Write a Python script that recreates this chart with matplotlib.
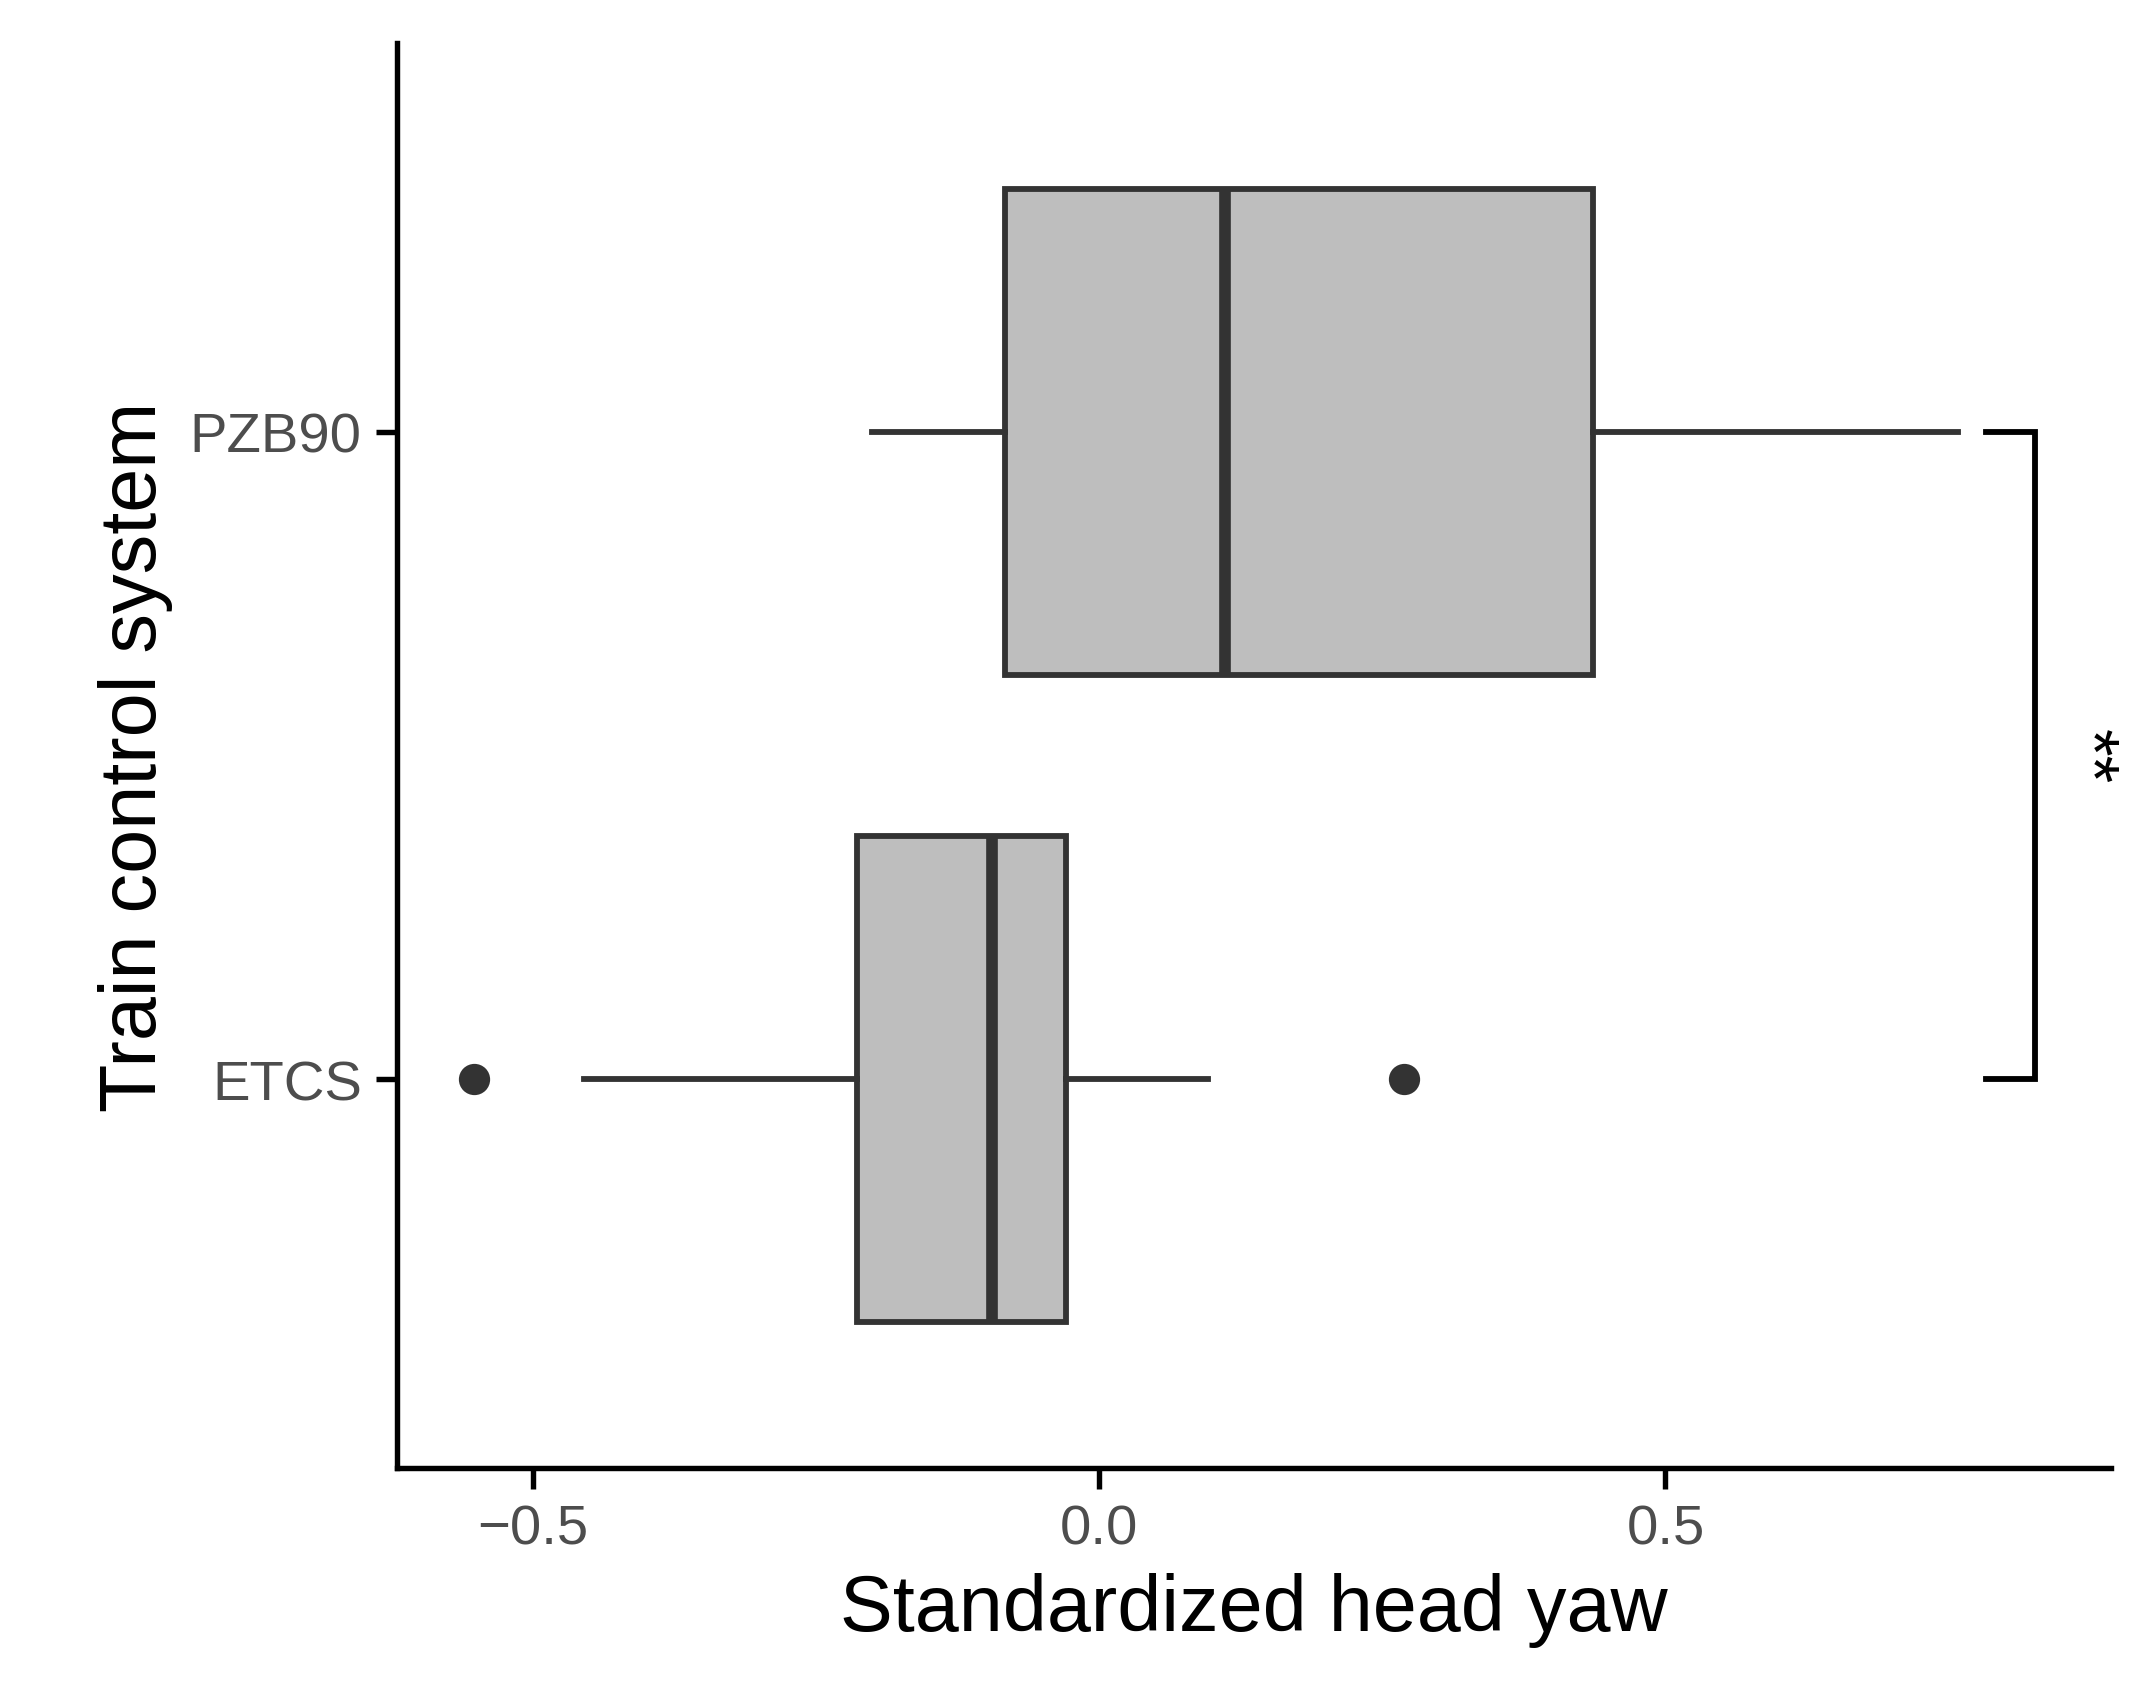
import matplotlib
matplotlib.use("Agg")
import matplotlib.pyplot as plt

categories = ["ETCS", "PZB90"]
whislo = [-0.455, -0.201]
q1 = [-0.214, -0.083]
med = [-0.095, 0.111]
q3 = [-0.029, 0.436]
whishi = [0.096, 0.758]
outliers = [[-0.552, 0.269], []]
sig_label = "**"

plt.rcParams['font.family'] = ['Liberation Sans', 'DejaVu Sans']
fig = plt.figure(figsize=(2147/300, 1702/300), dpi=300)
ax = fig.add_axes([0.185, 0.137, 0.798, 0.837])

stats = [dict(label=c, whislo=a, q1=b, med=m, q3=d, whishi=e, fliers=f)
         for c, a, b, m, d, e, f in zip(categories, whislo, q1, med, q3, whishi, outliers)]
ec = '#333333'
ax.bxp(stats, positions=[1, 2], vert=False, widths=0.75, patch_artist=True, showcaps=False,
       boxprops=dict(facecolor='#bebebe', edgecolor=ec, linewidth=1.4),
       medianprops=dict(color=ec, linewidth=2.8),
       whiskerprops=dict(color=ec, linewidth=1.4),
       flierprops=dict(marker='o', markerfacecolor=ec, markeredgecolor=ec, markersize=6.5))

# significance bracket
bx0, bx1 = 0.783, 0.826
ax.plot([bx0, bx1, bx1, bx0], [1, 1, 2, 2], color='black', lw=1.4, clip_on=False,
        solid_joinstyle='miter')
ax.text(0.872, 1.5, sig_label, rotation=-90, ha='center', va='center', fontsize=17)

ax.set_xlim(-0.620, 0.893)
ax.set_ylim(0.4, 2.6)
ax.set_xticks([-0.5, 0.0, 0.5])
ax.set_xticklabels(['\u22120.5', '0.0', '0.5'])
ax.set_yticks([1, 2])
ax.set_yticklabels(categories)
for s in ['top', 'right']:
    ax.spines[s].set_visible(False)
for s in ['left', 'bottom']:
    ax.spines[s].set_linewidth(1.3)
ax.tick_params(labelsize=13.5, labelcolor='#4d4d4d', width=1.3, length=5)
ax.set_xlabel('Standardized head yaw', fontsize=19)
ax.set_ylabel('Train control system', fontsize=19)
fig.savefig('out.png', dpi=300)
